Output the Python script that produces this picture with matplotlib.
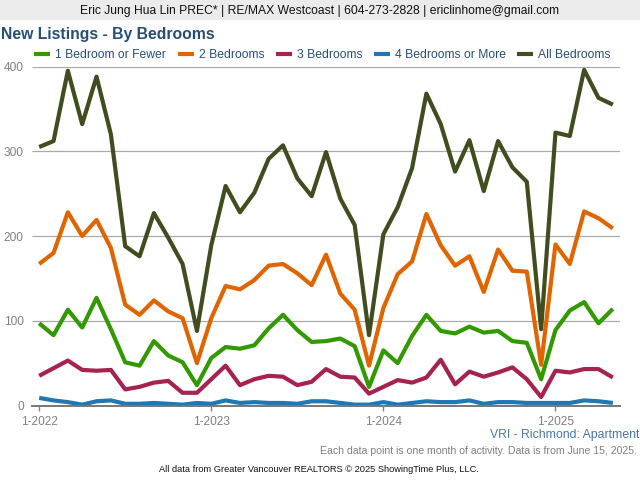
import numpy as np
import matplotlib
matplotlib.use('Agg')
import matplotlib.pyplot as plt
from matplotlib.patches import Rectangle

plt.rcParams['font.family'] = ['Liberation Sans', 'DejaVu Sans']
plt.rcParams['lines.solid_capstyle'] = 'butt'

months = list(range(41))
tick_pos = [0, 12, 24, 36]
tick_labels = ['1-2022', '1-2023', '1-2024', '1-2025']

one_bed = [97,83,113,92,127,90,51,47,76,59,51,24,56,69,67,71,91,107,89,75,76,79,70,22,65,50,82,107,88,85,93,86,88,76,74,31,89,112,122,97,114]
two_bed = [167,180,228,200,219,186,119,107,124,111,103,50,103,141,137,148,165,167,156,142,178,132,113,47,115,155,170,226,189,165,176,134,184,159,158,48,190,167,229,221,209]
three_bed = [35,44,53,42,41,42,19,22,27,29,15,15,31,47,24,31,35,34,24,28,43,34,33,14,22,30,27,33,54,25,40,34,39,45,31,10,41,39,43,43,33]
four_bed = [9,6,4,1,5,6,2,2,3,2,1,3,2,6,3,4,3,3,2,5,5,3,1,1,4,1,3,5,4,4,6,2,4,4,3,3,3,3,6,5,3]
all_bed = [305,312,395,332,388,320,188,176,227,198,167,88,189,259,228,251,291,307,268,247,299,244,213,83,202,234,280,368,332,276,313,253,312,281,264,90,322,318,396,363,355]

W, H = 640, 480
fig = plt.figure(figsize=(6.4, 4.8), dpi=100)
ax = fig.add_axes([32/W, 1-405.5/H, 588/W, 339/H])

ax.plot(months, one_bed, color='#339900', lw=3, label='1 Bedroom or Fewer')
ax.plot(months, two_bed, color='#E06400', lw=3, label='2 Bedrooms')
ax.plot(months, three_bed, color='#A6224F', lw=3, label='3 Bedrooms')
ax.plot(months, four_bed, color='#1F77B4', lw=3, label='4 Bedrooms or More')
ax.plot(months, all_bed, color='#3F4D1F', lw=3, label='All Bedrooms')

ax.set_xlim(-0.5, 40.5)
ax.set_ylim(0, 400)
ax.set_yticks([0, 100, 200, 300, 400])
ax.set_xticks(tick_pos)
ax.set_xticklabels(tick_labels)
ax.grid(axis='y', color='#AAAAAA', lw=0.9)
ax.set_axisbelow(True)
for s in ['top', 'left', 'right']:
    ax.spines[s].set_visible(False)
ax.spines['bottom'].set_color('#777777')
ax.spines['bottom'].set_linewidth(1.4)
ax.tick_params(axis='x', colors='#808080', labelsize=8.6, length=3.5, width=1, pad=4)
ax.tick_params(axis='y', colors='#808080', labelsize=8.6, length=0, pad=6)

fig.add_artist(Rectangle((0, 1-20/H), 1, 20/H, transform=fig.transFigure, color='#EBEBEB', lw=0))
fig.text(320/W, 1-11/H, 'Eric Jung Hua Lin PREC* | RE/MAX Westcoast | 604-273-2828 | ericlinhome@gmail.com',
         ha='center', va='center', fontsize=8.7, color='#111111')
fig.text(1/W, 1-34.5/H, 'New Listings - By Bedrooms', ha='left', va='center', fontsize=11.3,
         fontweight='bold', color='#264F78')
fig.text(639/W, 1-435/H, 'VRI - Richmond: Apartment', ha='right', va='center', fontsize=8.8, color='#4A76A8')
fig.text(637/W, 1-451/H, 'Each data point is one month of activity. Data is from June 15, 2025.',
         ha='right', va='center', fontsize=7.55, color='#808080')
fig.text(319/W, 1-470/H, 'All data from Greater Vancouver REALTORS \u00a9 2025 ShowingTime Plus, LLC.',
         ha='center', va='center', fontsize=6.7, color='#111111')

leg = ax.legend(loc='lower left', bbox_to_anchor=(-3/588, 1.0), ncol=5, frameon=False, fontsize=8.75,
                handlelength=1.3, handletextpad=0.42, columnspacing=0.95, borderpad=0, borderaxespad=0.45)
for t in leg.get_texts():
    t.set_color('#264F78')

plt.savefig('out.png', dpi=100)
